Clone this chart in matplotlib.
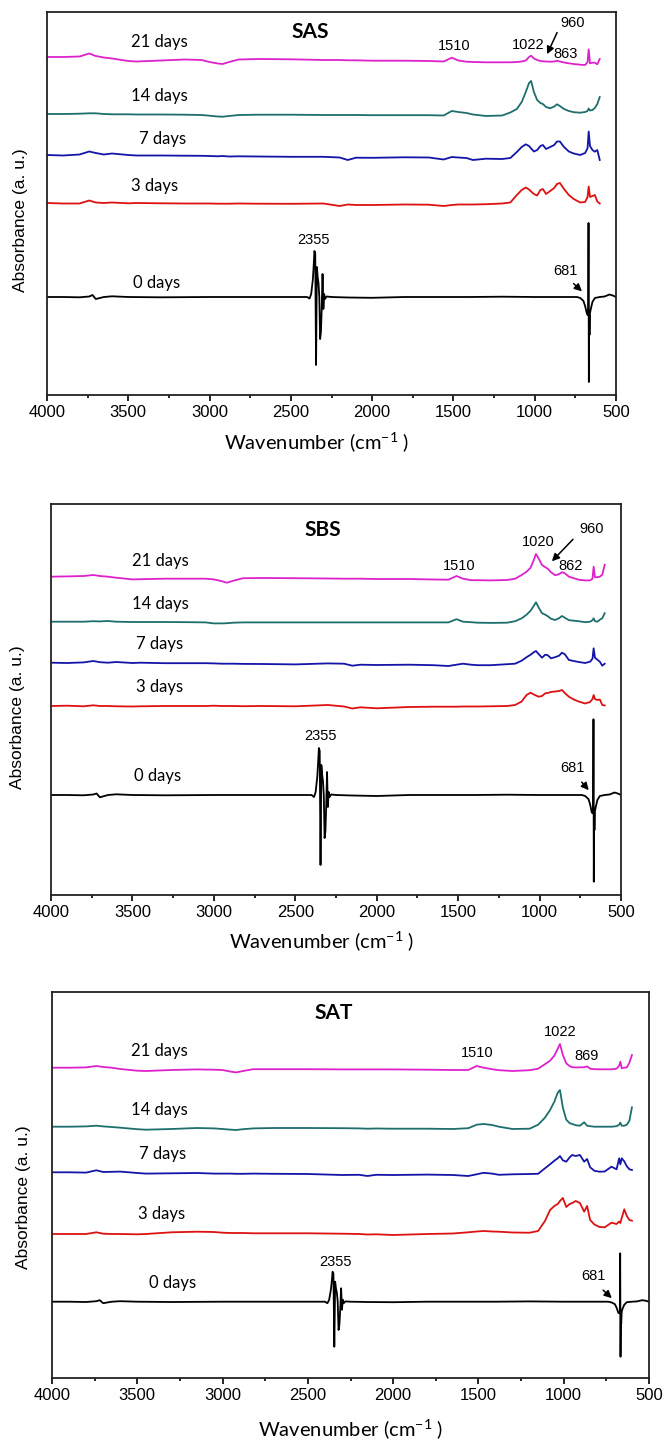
import numpy as np
import matplotlib
matplotlib.use("Agg")
import matplotlib.pyplot as plt
from matplotlib.ticker import MultipleLocator

plt.rcParams['font.family'] = ['Liberation Sans', 'DejaVu Sans']
plt.rcParams['mathtext.fontset'] = 'custom'
plt.rcParams['mathtext.rm'] = 'Lato'

# wavenumber grid for the treated samples (cm-1)
wn_t = [4000, 3900, 3800, 3740, 3700, 3650, 3600, 3500, 3450, 3300,
        3150, 3050, 3000, 2950, 2920, 2880, 2820, 2700, 2500, 2300,
        2200, 2150, 2100, 2000, 1800, 1650, 1560, 1510, 1470, 1420,
        1380, 1300, 1200, 1150, 1110, 1080, 1055, 1035, 1022, 1005,
        985, 965, 950, 930, 905, 880, 863, 845, 820, 790,
        760, 720, 690, 675, 668, 660, 645, 630, 615, 600]

# wavenumber grid for the 0 day spectra
wn_0 = [4000, 3900, 3800, 3740, 3720, 3700, 3650, 3600, 3500, 3300,
        3000, 2700, 2500, 2400, 2385, 2375, 2365, 2360, 2355, 2350,
        2345, 2340, 2335, 2330, 2325, 2320, 2315, 2310, 2305, 2300,
        2295, 2290, 2280, 2250, 2150, 2000, 1800, 1600, 1400, 1200,
        1000, 900, 800, 740, 720, 700, 690, 680, 675, 671,
        669, 667, 665, 663, 660, 655, 645, 630, 600, 570,
        540, 520, 500]

# SAS spectra (absorbance relative to each baseline, a.u.)
sas_21 = [0, 0, 0.5, 3.5, 1, -0.5, -1.5, -4, -4.5, -3.5,
          -2.5, -3, -5, -6.5, -7, -5, -2.5, -2, -2.3, -3,
          -3, -3.3, -3.3, -3.7, -3.7, -4, -4.5, -0.7, -3.5, -4.7,
          -5, -5.3, -5.3, -5.3, -5, -4.5, -3.5, 0, 1.3, -1.5,
          -3, -4, -4.3, -4.5, -4.7, -4.5, -3.8, -4.5, -5.5, -6.3,
          -7, -7.7, -8, -5, 7.7, -6.3, -5.7, -5.7, -7.3, -2]
sas_14 = [0, 0, 0.3, 0.7, 0.7, 0, -0.3, -0.3, -0.5, -0.5,
          -0.7, -1, -1.7, -2.5, -2.7, -2, -1, -0.7, -0.7, -1,
          -1, -1, -1, -1.2, -1.2, -1.2, -1.5, 3, 2, 1,
          -0.5, -2, -1.5, 1.5, 5, 12, 22, 31, 33, 22,
          14, 11, 10, 7, 5.7, 7.5, 9.7, 8, 5, 3,
          1.8, 1.3, 2, 3, 5.5, 3.5, 4, 6, 10, 17]
sas_7 = [0, -0.5, 0.5, 3.5, 2, 0.5, 1.5, 0, -0.5, -0.5,
         -0.7, -0.8, -1, -1.3, -1, -1.5, -1.3, -1.5, -1.8, -1.8,
         -2.5, -5, -2.7, -2.8, -2.3, -2.5, -4.5, -2, -2.5, -3,
         -5, -3.7, -4, -3, 3, 8, 10.7, 9, 6.5, 3.5,
         5, 9, 10, 6, 8, 10, 13.5, 13.5, 8, 3.5,
         1.5, 0, 2, 6.7, 23.5, 9, 5, 3.3, 5, -5]
sas_3 = [0, -0.5, -0.5, 2.5, 0.5, 0, 0.5, -0.3, 0, -0.3,
         -0.5, -0.5, -0.5, -0.7, -0.7, -0.7, -0.5, -0.7, -0.8, -0.5,
         -3, -1.5, -2, -2, -1.5, -1.7, -3, -2, -1.5, -1.5,
         -1.5, -1.2, -0.5, 0.5, 8, 13, 15.5, 13.5, 11.5, 9,
         7.5, 13, 14, 9, 12, 15, 19, 20, 14, 8,
         4, 0.5, 1, 6, 16.5, 6, 7, 8, 1.5, -0.5]
sas_0 = [0, 0, -0.3, 0.5, 2, -2, 0, 0.7, 0, -0.3,
         0, 0, 0, 0, -1.5, 3, 17, 30, 46, 43,
         -68, 30, 20, 14, 0, -42, -35, -10, 23, -12,
         3, -2, 0.5, 0, -0.5, -0.8, 0, 0, 0, 0.3,
         0, 0, 0, 0, -1, -4, -9, -16, -18, -18,
         74, -85, -18, -38, -16, -12, -5, -1, 0, 0.5,
         2.5, 1.5, 0]

# SBS spectra
sbs_21 = [0, 0.3, 0.7, 1.7, 0.7, 0, -1, -2.7, -2.5, -2,
          -2, -2, -2.7, -4.5, -6, -4, -1.5, -1.3, -1.5, -1.8,
          -2, -2, -2, -2.3, -2.3, -2.8, -3, 0.7, -2, -3.5,
          -3.5, -3.7, -3.3, -2, 1.7, 5, 9, 17, 22.7, 18,
          11.7, 9.5, 8, 4.5, 1.5, 2.5, 4.5, 3.5, 0, -1.5,
          -3, -3.7, -3.7, -2, 10, -0.5, -0.5, 0, 2, 12]
sbs_14 = [0, 0, 0, 0.5, 0.3, 0.7, 0, -0.3, -0.3, -0.3,
          -0.5, -0.7, -1.7, -1.7, -1.5, -1, -0.7, -0.7, -0.7, -0.7,
          -0.7, -0.7, -0.7, -0.7, -0.7, -0.7, -0.7, 2.5, 0, -0.5,
          -1, -1.2, -1, 0.5, 3.4, 7, 11, 16, 19.4, 14,
          8.5, 7, 5.5, 3, 1.7, 3.5, 5.7, 4, 1.5, 1,
          0.5, -0.5, 0, 1.5, 3.4, 0.5, 0, 2, 3.5, 8.5]
sbs_7 = [0, -0.3, 0.3, 1.7, 0.5, 0, 0.7, -0.3, 0, -0.5,
         -0.5, -0.5, -0.7, -1, -1, -1, -1.2, -1.3, -1.7, -0.7,
         -1, -3, -2, -2.3, -2, -2.5, -3.3, -2, -1, -2,
         -2.5, -2.5, -1.5, -1, 2, 5.5, 8, 10.5, 11.7, 8.5,
         5, 8, 7.5, 4.4, 5.5, 7, 10, 8.5, 2.7, 1.7,
         0.7, -0.3, 1, 4, 14.4, 5, 3, 1, -3, -1]
sbs_3 = [0, 0.3, -0.3, 0.7, 0, 0, -0.3, -0.5, -0.3, 0,
         0, 0, 0.3, 0, 0, 0, -0.2, 0, -0.3, 1,
         -0.5, -2.5, -1.3, -2.3, -1, -0.7, -0.7, -0.7, -0.5, -0.5,
         -0.5, -0.3, 0, 1, 4.5, 11, 13.3, 11.5, 10.5, 9.3,
         10, 12.7, 13, 14, 14.5, 15, 16, 13, 9.3, 6.5,
         4.5, 2.5, 4, 7, 11, 7, 6, 6.5, 1, 0.5]
sbs_0 = [0, 0, -0.3, 0.5, 1.5, -2.3, 0, 0.7, 0, -0.3,
         0, 0, 0, 0, -2, 3, 18, 32, 47, 44,
         -70, 30, 20, 14, 0, -43, -36, -10, 23, -12,
         3, -2, 0.5, 0, -0.5, -1, 0, 0, 0, 0.3,
         0, 0, 0, 0, -1, -4, -9, -17, -18.3, -18,
         75.7, -86.7, -18, -35, -16, -12, -5, -1, 0, 0.5,
         2.5, 1.5, 0]

# SAT spectra
sat_21 = [0, 0, 0.3, 1.7, 0.7, 0, -1.3, -3, -3.3, -2.3,
          -1.7, -2, -2.3, -4, -4.7, -3.3, -1.5, -1.5, -1.5, -1.7,
          -1.7, -1.7, -1.7, -1.7, -2, -2.3, -2.3, 1.7, 0, -1.5,
          -2.5, -3.3, -2.5, -1, 3.5, 7, 12, 19, 23.7, 12.7,
          4.4, 1.5, 0.5, 0.3, 0.3, 0.5, 1.3, -1, -1.5, -1.6,
          -1.6, -1.6, -1, 2, 6, -0.5, 0, 0.3, 5, 12.7]
sat_14 = [0, 0, 0.3, 1, 0.3, -0.3, -1, -2.5, -3, -2.3,
          -1.3, -1.7, -2.3, -3, -3.3, -2.5, -1.7, -1.3, -1.3, -1.5,
          -1.7, -2, -1.8, -2, -2, -2.3, -1.5, 2, 2.7, 1.7,
          0, -2.3, -2, 2, 9, 16.7, 25, 34, 36.7, 19,
          7, 3.5, 2.7, 1.5, 1, 4.4, 1, 0.5, 0, 0,
          0, 0, 0.5, 2, 4, 1, 1, 2, 6, 19.4]
sat_7 = [0, 0, -0.3, 2, 0.3, 0.5, 0.7, -0.7, -1.3, -1,
         -0.7, -1.3, -1.3, -1.3, -1.5, -1.5, -1.3, -1.5, -1.7, -2.7,
         -2.5, -3.7, -2.5, -2.7, -2.3, -2.7, -3.7, -2, -0.5, -1.3,
         -2.5, -2, -1.7, -1.5, 4, 8, 11.6, 14, 16.3, 12,
         10.6, 15, 17.3, 16.3, 17.3, 10.6, 13.3, 5, 1.5, 0.6,
         0.8, 5.6, 3, 14, 8, 14, 11, 6, 3, 2.3]
sat_3 = [0, 0, 0, 1.7, 0.3, 0, 0, -0.3, 0, 1.7,
         2.3, 2, 1.3, 1, 1, 1, 0.7, 0.7, 0.7, 0.3,
         0, -0.5, -0.3, -1, 0, 0.5, 1.7, 2.5, 3, 2.5,
         2.3, 1.5, 1.3, 3, 13, 24, 28, 30, 33, 36,
         27, 30, 31, 33, 31, 22.3, 28, 14, 9.5, 7,
         6.7, 11.3, 10, 12.5, 11, 16, 24.7, 18, 14, 13.3]
sat_0 = [0, 0, -0.3, 0.5, 1.5, -1.5, 0, 0.5, 0, -0.3,
         0, 0, 0, 0, -1.5, 2, 12, 20, 30, 28,
         -45, 20, 13, 9, 0, -28.3, -23, -7, 13.4, -8,
         2, -1.5, 0.3, 0, -0.3, -0.5, 0, 0, 0, 0.3,
         0, 0, 0, 0, -0.7, -2.5, -6, -11, -11.6, -11.5,
         48.4, -55, -11.6, -22, -10, -7, -3, -0.5, 0, 0.3,
         1.5, 1, 0]

days = [0, 3, 7, 14, 21]
# stacking offsets of each day (a.u.)
sas_offsets = [98, 192, 240, 281, 338]
sbs_offsets = [100, 189, 232.3, 273.3, 318.3]
sat_offsets = [76.3, 144, 205.7, 251.3, 310.3]

colors = ['black', '#DD1111', '#1414A8', '#1E6E6E', '#DD22CC']
lato = ['Lato', 'DejaVu Sans']

fig = plt.figure(figsize=(6.66, 14.4), dpi=100)


def draw_panel(rect, ytop, spectra, offsets, title, title_xy, day_xy, notes,
               arrows, xlab_xy, ylab_xy):
    ax = fig.add_axes(rect)
    for i, d in enumerate(days):
        wn = wn_0 if d == 0 else wn_t
        ax.plot(wn, np.array(spectra[i]) + offsets[i], color=colors[i], lw=1.3)
        ax.text(day_xy[i][0], day_xy[i][1], f"{d} days", ha='center',
                va='center', fontsize=12, family=lato)
    ax.set_xlim(4000, 500)
    ax.set_ylim(0, ytop)
    ax.set_yticks([])
    ax.set_xticks(range(4000, 499, -500))
    ax.xaxis.set_minor_locator(MultipleLocator(250))
    ax.tick_params(axis='x', which='major', direction='out', length=4,
                   width=1.2, labelsize=12, pad=3)
    ax.tick_params(axis='x', which='minor', direction='out', length=2.5,
                   width=1.2)
    for s in ax.spines.values():
        s.set_linewidth(1.3)
        s.set_color('#222222')
    ax.text(title_xy[0], title_xy[1], title, ha='center', va='center',
            fontsize=15, fontweight='bold', family=lato)
    for txt, x, y in notes:
        ax.text(x, y, txt, ha='center', va='center', fontsize=10.5)
    for tail, head in arrows:
        ax.annotate('', xy=head, xytext=tail,
                    arrowprops=dict(arrowstyle='-|>', color='black', lw=1.1,
                                    mutation_scale=11))
    ax.text(xlab_xy[0], xlab_xy[1], r'Wavenumber (cm$^{\mathregular{-1}}$ )',
            transform=ax.transAxes, ha='center', va='center', fontsize=14.5,
            family=lato)
    ax.text(ylab_xy[0], ylab_xy[1], 'Absorbance (a. u.)', transform=ax.transAxes,
            ha='center', va='center', rotation=90, fontsize=12.5)
    return ax


draw_panel([47 / 666, 1 - 395 / 1440, 569 / 666, 383 / 1440], 383,
           [sas_0, sas_3, sas_7, sas_14, sas_21], sas_offsets,
           'SAS', (2382, 362.7),
           [(3328, 111.7), (3336, 209.3), (3288, 256), (3311, 299.3), (3311, 353.3)],
           [('2355', 2361, 155), ('681', 814, 124.3), ('1510', 1498, 349),
            ('1022', 1040, 350), ('960', 766, 371.7), ('863', 808, 340.7)],
           [((773, 113.3), (697, 101.7)), ((855, 365), (931, 338.3))],
           (0.4745, -0.1253), (-0.0457, 0.457))

draw_panel([51 / 666, 1 - 895 / 1440, 570 / 666, 391 / 1440], 391,
           [sbs_0, sbs_3, sbs_7, sbs_14, sbs_21], sbs_offsets,
           'SBS', (2330, 365),
           [(3343, 119), (3335, 207.7), (3335, 250.7), (3327, 291), (3327, 334)],
           [('2355', 2344, 159.3), ('681', 797, 126.7), ('1510', 1495, 329),
            ('1020', 1008, 353.3), ('960', 680, 366), ('862', 809, 329.3)],
           [((752, 115), (687, 102.7)), ((783, 357.7), (936, 331.7))],
           (0.4745, -0.120), (-0.0596, 0.454))

draw_panel([52 / 666, 1 - 1378 / 1440, 597 / 666, 386 / 1440], 386,
           [sat_0, sat_3, sat_7, sat_14, sat_21], sat_offsets,
           'SAT', (2350, 364.7),
           [(3296, 94.7), (3359, 164), (3351, 223.7), (3371, 268), (3371, 327)],
           [('2355', 2337, 116.3), ('681', 825, 102), ('1510', 1510, 325.3),
            ('1022', 1022, 346.3), ('869', 865, 322)],
           [((781, 89.7), (706, 78))],
           (0.5, -0.1347), (-0.0479, 0.468))

fig.savefig('out.png', dpi=100)
